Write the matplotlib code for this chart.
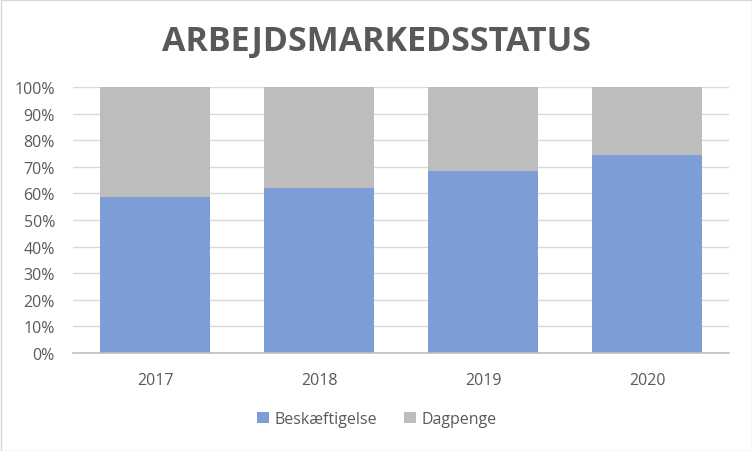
import matplotlib
matplotlib.use("Agg")
import matplotlib.pyplot as plt
from matplotlib.patches import Rectangle
from matplotlib.ticker import PercentFormatter

years = ["2017", "2018", "2019", "2020"]
beskaeftigelse = [58.8, 62.0, 68.4, 74.4]
dagpenge = [100 - v for v in beskaeftigelse]
yticks = [0, 10, 20, 30, 40, 50, 60, 70, 80, 90, 100]

blue = "#7c9dd5"
gray = "#bdbdbd"
text_col = "#595959"

plt.rcParams["font.family"] = ["Open Sans", "DejaVu Sans"]

fig = plt.figure(figsize=(7.52, 4.52), dpi=100)
fig.patch.set_facecolor("white")
fig.patches.append(Rectangle((0.5/752, 0.5/452), 1 - 1/752, 1 - 1/452, transform=fig.transFigure,
                             fill=False, edgecolor="#d9d9d9", linewidth=1))

ax = fig.add_axes([73/752, 98/452, 656/752, 266/452])
x = list(range(len(years)))
ax.bar(x, beskaeftigelse, width=0.665, color=blue, zorder=2, label="Beskæftigelse")
ax.bar(x, dagpenge, width=0.665, bottom=beskaeftigelse, color=gray, zorder=2, label="Dagpenge")

ax.set_xlim(-0.5, len(years) - 0.5)
ax.set_ylim(0, 100)
ax.set_yticks(yticks)
ax.yaxis.set_major_formatter(PercentFormatter(decimals=0))
ax.set_xticks(x)
ax.set_xticklabels(years)
ax.grid(axis="y", color="#d9d9d9", linewidth=1, zorder=0)
for s in ["top", "right", "left"]:
    ax.spines[s].set_visible(False)
ax.spines["bottom"].set_color("#bfbfbf")
ax.spines["bottom"].set_linewidth(1.2)
ax.tick_params(axis="both", length=0, labelsize=11.5, labelcolor=text_col)
ax.tick_params(axis="x", pad=14)
ax.tick_params(axis="y", pad=13)

fig.text(376/752, 1 - 42/452, "ARBEJDSMARKEDSSTATUS", ha="center", va="center",
         fontsize=24.5, fontweight="bold", color=text_col)

leg = fig.legend(loc="center", bbox_to_anchor=(377/752, 1 - 420/452), ncol=2, frameon=False,
                 fontsize=11.5, handlelength=0.75, handleheight=0.75, handletextpad=0.35,
                 columnspacing=1.7, labelcolor=text_col)

fig.savefig("out.png", dpi=100)
